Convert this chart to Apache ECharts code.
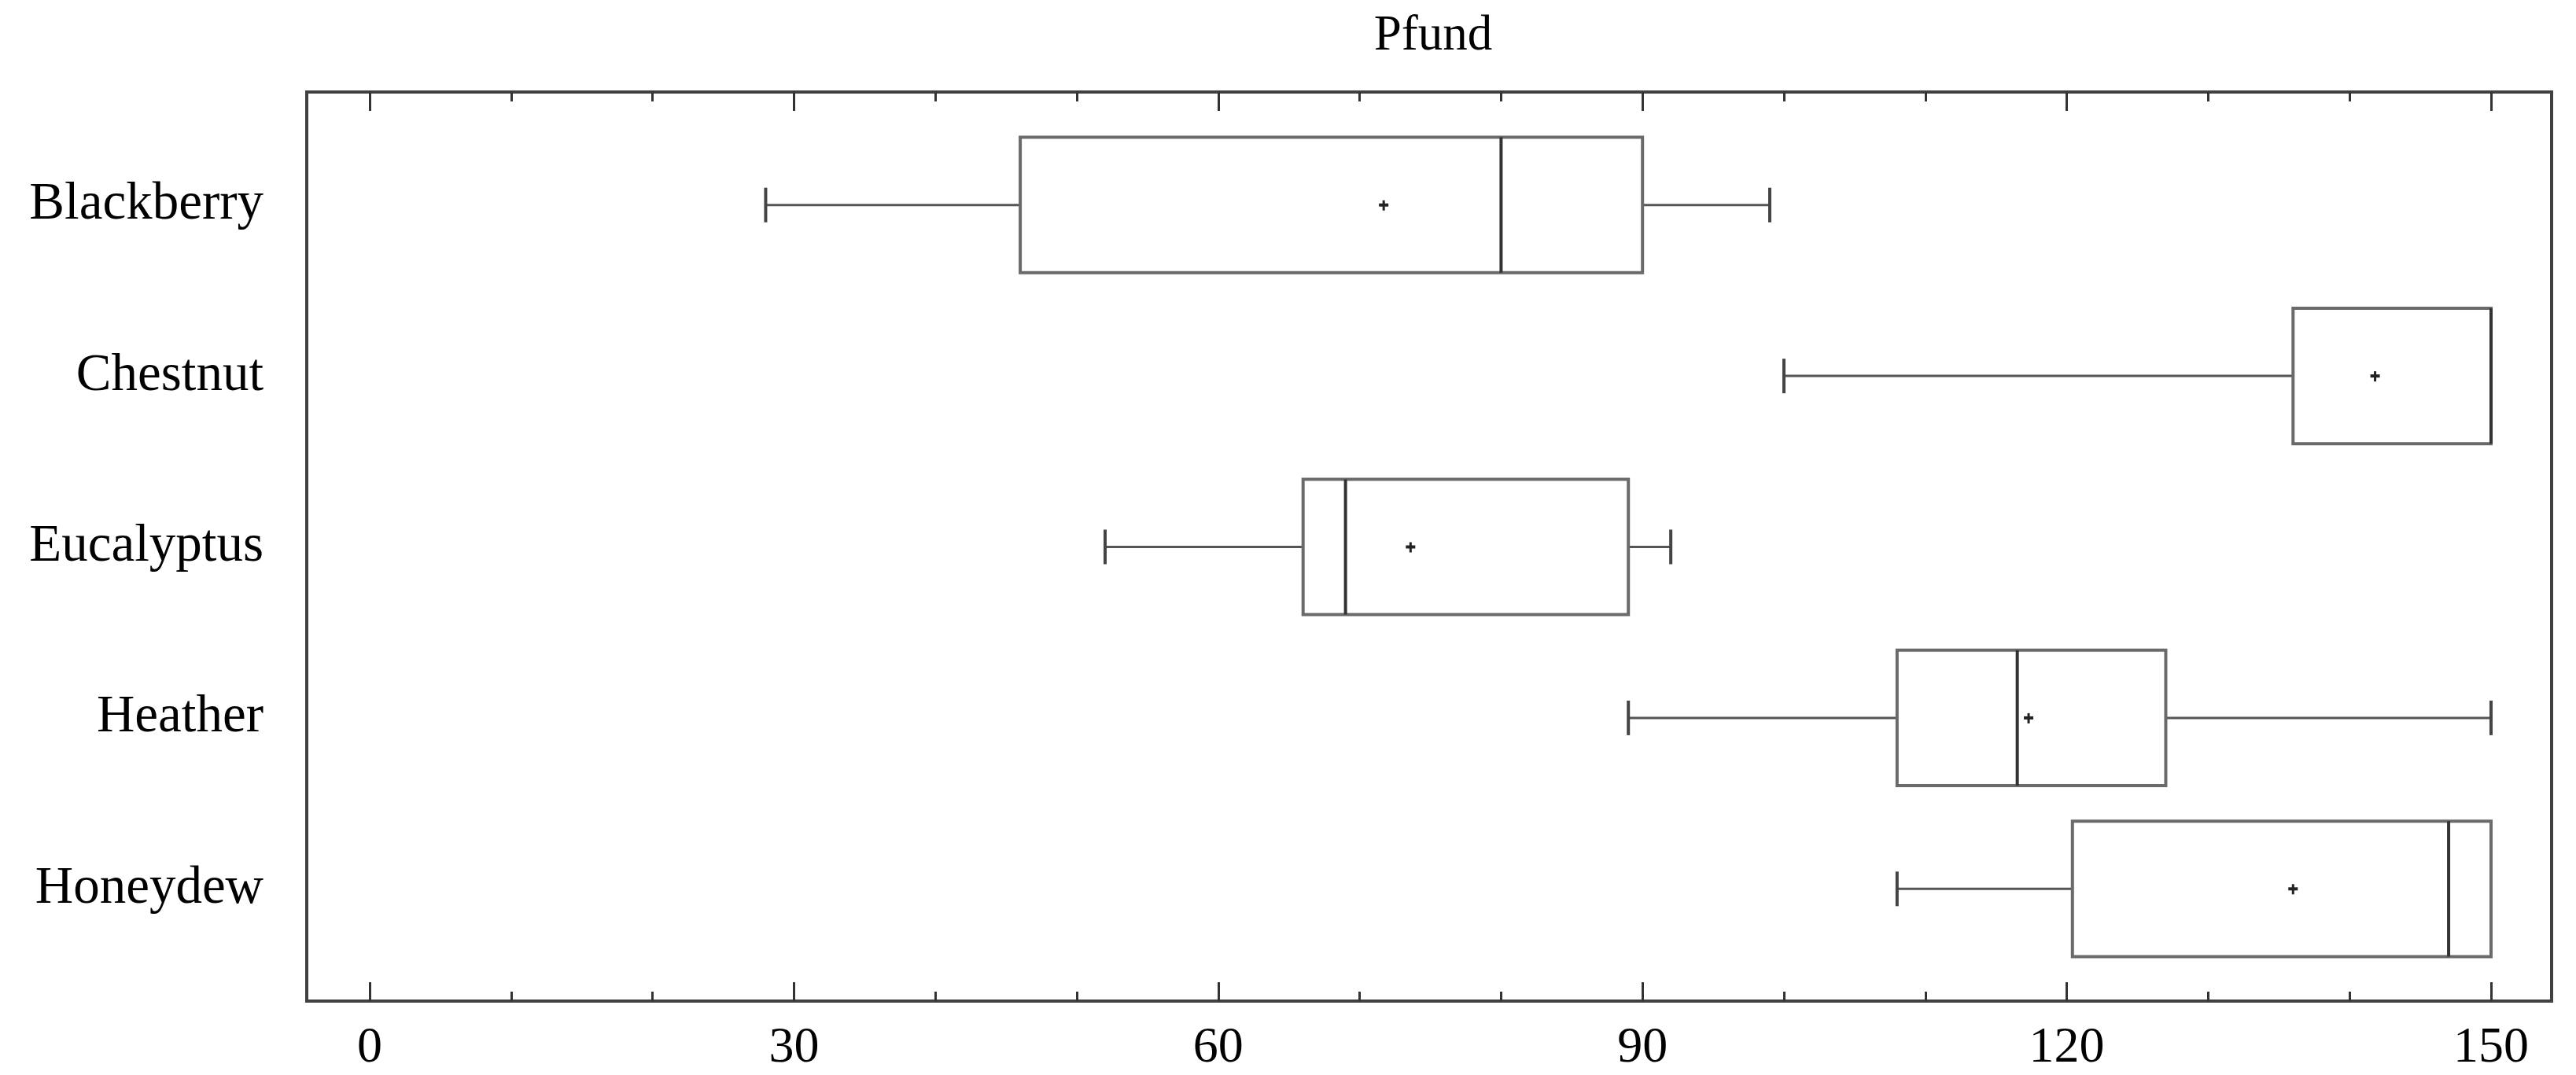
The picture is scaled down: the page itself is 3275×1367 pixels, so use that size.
<!DOCTYPE html>
<html>
<head>
<meta charset="utf-8">
<script src="https://cdn.jsdelivr.net/npm/echarts@6/dist/echarts.min.js"></script>
<style>
html, body { margin: 0; padding: 0; background: #fff; }
#chart01 { width: 3275px; height: 1367px; }
</style>
</head>
<body>
<div id="chart01"></div>
<script>
// box plot values
var categories = ['Blackberry', 'Chestnut', 'Eucalyptus', 'Heather', 'Honeydew'];
var whiskerLow  = [28, 100, 52, 89, 108];
var q1          = [46, 136, 66, 108, 120.4];
var median      = [80, 150, 69, 116.5, 147];
var q3          = [90, 150, 89, 127, 150];
var whiskerHigh = [99, 150, 92, 150, 150];
var mean        = [71.7, 141.8, 73.6, 117.3, 136];
var xTicks = { min: 0, max: 150, interval: 30 };

var serif = '"Liberation Serif", "DejaVu Serif", serif';

var boxData = categories.map(function (c, i) {
    return [i, whiskerLow[i], q1[i], median[i], q3[i], whiskerHigh[i], mean[i]];
});

function renderBox(params, api) {
    var i = api.value(0);
    var lo = api.coord([api.value(1), i]);
    var b1 = api.coord([api.value(2), i]);
    var md = api.coord([api.value(3), i]);
    var b3 = api.coord([api.value(4), i]);
    var hi = api.coord([api.value(5), i]);
    var mn = api.coord([api.value(6), i]);
    var y = lo[1];
    var h = api.size([0, 1])[1] * 0.792;
    var cap = 22;
    var lineW = { stroke: '#555', lineWidth: 3 };
    var capW = { stroke: '#444', lineWidth: 4 };
    return {
        type: 'group',
        children: [
            { type: 'line', shape: { x1: lo[0], y1: y, x2: b1[0], y2: y }, style: lineW },
            { type: 'line', shape: { x1: b3[0], y1: y, x2: hi[0], y2: y }, style: lineW },
            { type: 'line', shape: { x1: lo[0], y1: y - cap, x2: lo[0], y2: y + cap }, style: capW },
            { type: 'line', shape: { x1: hi[0], y1: y - cap, x2: hi[0], y2: y + cap }, style: capW },
            { type: 'rect', shape: { x: b1[0], y: y - h / 2, width: b3[0] - b1[0], height: h },
              style: { fill: 'none', stroke: '#6a6a6a', lineWidth: 4 } },
            { type: 'line', shape: { x1: md[0], y1: y - h / 2, x2: md[0], y2: y + h / 2 },
              style: { stroke: '#333', lineWidth: 4 } },
            { type: 'line', shape: { x1: mn[0] - 6, y1: y, x2: mn[0] + 6, y2: y }, style: { stroke: '#222', lineWidth: 4 } },
            { type: 'line', shape: { x1: mn[0], y1: y - 6, x2: mn[0], y2: y + 7 }, style: { stroke: '#222', lineWidth: 3 } }
        ]
    };
}

var tickStyle = { color: '#333', width: 3 };

var myChart = echarts.init(document.getElementById('chart01'));
var option = {
    backgroundColor: '#fff',
    animation: false,
    title: {
        text: 'Pfund',
        left: 1817,
        top: 10,
        textAlign: 'center',
        textStyle: { fontFamily: serif, fontSize: 63, fontWeight: 'normal', color: '#000' }
    },
    grid: [
        // frame
        { left: 390, right: 31, top: 117, bottom: 94, show: true, borderColor: '#404040', borderWidth: 4, backgroundColor: 'transparent' },
        // ticks 0..150
        { left: 470, right: 108, top: 117, bottom: 94 },
        // boxes
        { left: 470, right: 108, top: 152, bottom: 128 }
    ],
    xAxis: [
        { gridIndex: 0, type: 'value', show: false, min: 0, max: 1 },
        {
            gridIndex: 1, type: 'value', position: 'bottom',
            min: xTicks.min, max: xTicks.max, interval: xTicks.interval,
            axisLine: { show: false },
            axisTick: { show: true, inside: true, length: 24, lineStyle: tickStyle },
            minorTick: { show: true, splitNumber: 3, length: 12, lineStyle: tickStyle },
            splitLine: { show: false },
            axisLabel: { fontFamily: serif, fontSize: 64, color: '#000', margin: 28 }
        },
        {
            gridIndex: 1, type: 'value', position: 'top',
            min: xTicks.min, max: xTicks.max, interval: xTicks.interval,
            axisLine: { show: false },
            axisTick: { show: true, inside: true, length: 24, lineStyle: tickStyle },
            minorTick: { show: true, splitNumber: 3, length: 12, lineStyle: tickStyle },
            splitLine: { show: false },
            axisLabel: { show: false }
        },
        { gridIndex: 2, type: 'value', show: false, min: xTicks.min, max: xTicks.max }
    ],
    yAxis: [
        { gridIndex: 0, type: 'value', show: false },
        { gridIndex: 1, type: 'value', show: false },
        {
            gridIndex: 2, type: 'category', inverse: true, data: categories,
            axisLine: { show: false },
            axisTick: { show: false },
            splitLine: { show: false },
            axisLabel: { fontFamily: serif, fontSize: 67, color: '#000', margin: 135 }
        }
    ],
    series: [
        {
            type: 'custom',
            xAxisIndex: 3,
            yAxisIndex: 2,
            renderItem: renderBox,
            encode: { x: [1, 2, 3, 4, 5, 6], y: 0 },
            data: boxData
        }
    ]
};
if (option && typeof option === "object") {
    myChart.setOption(option, true);
}
</script>
</body>
</html>
